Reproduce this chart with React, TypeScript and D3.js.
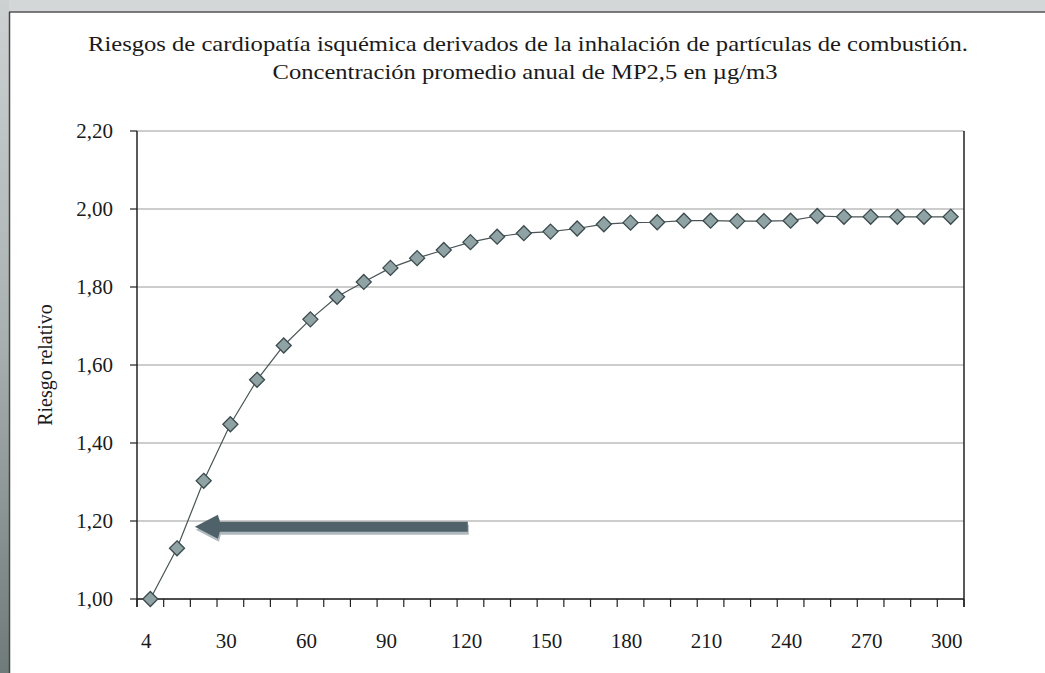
import React from "react";
import * as d3 from "d3";

const categories = ["4","10","20","30","40","50","60","70","80","90","100","110","120","130","140","150","160","170","180","190","200","210","220","230","240","250","260","270","280","290","300"];
const riesgo = [1.00,1.13,1.303,1.448,1.562,1.650,1.717,1.775,1.813,1.849,1.874,1.895,1.915,1.929,1.938,1.942,1.950,1.961,1.965,1.966,1.970,1.970,1.969,1.969,1.970,1.982,1.980,1.980,1.980,1.980,1.980];
const yTicks = [1.0,1.2,1.4,1.6,1.8,2.0,2.2];
const xLabelCats = ["4","30","60","90","120","150","180","210","240","270","300"];
const titleLines = ["Riesgos de cardiopatía isquémica derivados de la inhalación de partículas de combustión.", "Concentración promedio anual de MP2,5 en  µg/m3"];
const yAxisTitle = "Riesgo relativo";
// annotation arrow in data terms (category index, value)
const arrowTip = { idx: 1.67, value: 1.185 };
const arrowEnd = { idx: 11.9, value: 1.185 };

const W = 1045, H = 673;
const L = 137, R = 964, T = 131, B = 599;
const font = "'Liberation Serif', 'DejaVu Serif', 'Times New Roman', serif";

export default function App() {
  const x = d3.scaleBand<string>().domain(categories).range([L, R]).padding(0);
  const bw = x.bandwidth();
  const cx = (c: string) => (x(c) as number) + bw / 2;
  const xi = d3.scaleLinear().domain([-0.5, categories.length - 0.5]).range([L, R]);
  const y = d3.scaleLinear().domain([1, 2.2]).range([B, T]);
  const fmt = (v: number) => v.toFixed(2).replace(".", ",");
  const line = d3.line<number>().x((_, i) => cx(categories[i])).y((v) => y(v));

  const tipX = xi(arrowTip.idx), tipY = y(arrowTip.value);
  const endX = xi(arrowEnd.idx);
  const arrowPts = [
    [tipX, tipY], [tipX + 23, tipY - 12], [tipX + 25, tipY - 5], [endX, tipY - 5],
    [endX, tipY + 5], [tipX + 25, tipY + 5], [tipX + 23, tipY + 12]
  ].map(p => p.join(",")).join(" ");

  const boundaries = d3.range(categories.length + 1).map(k => L + k * bw);

  return (
    <div style={{ position: "fixed", left: 0, top: 0 }}>
      <svg width={W} height={H} style={{ display: "block" }}>
        <defs>
          <linearGradient id="leftStrip" x1="0" y1="0" x2="0" y2="1">
            <stop offset="0" stopColor="#cdd1d1" />
            <stop offset="0.5" stopColor="#a9b1b0" />
            <stop offset="1" stopColor="#6f7b79" />
          </linearGradient>
          <filter id="soft" x="-5%" y="-50%" width="110%" height="200%">
            <feGaussianBlur stdDeviation="0.7" />
          </filter>
        </defs>
        <rect x={0} y={0} width={W} height={H} fill="#d4d7d7" />
        <rect x={0} y={0} width={9} height={H} fill="url(#leftStrip)" />
        <rect x={9} y={12} width={W - 9} height={H - 12} fill="#fff" />
        <line x1={9} y1={12} x2={W} y2={12} stroke="#555" strokeWidth={1.5} />
        <line x1={9.5} y1={12} x2={9.5} y2={H} stroke="#444" strokeWidth={1.5} />

        <text x={528} y={51} textAnchor="middle" fontFamily={font} fontSize={21} fill="#1a1a1a"
          textLength={880} lengthAdjust="spacingAndGlyphs">{titleLines[0]}</text>
        <text x={525} y={79} textAnchor="middle" fontFamily={font} fontSize={21} fill="#1a1a1a"
          textLength={505} lengthAdjust="spacingAndGlyphs">{titleLines[1]}</text>

        {yTicks.map(t => (
          <g key={t}>
            <line x1={L} x2={R} y1={y(t)} y2={y(t)} stroke="#9a9a9a" strokeWidth={1} />
            <line x1={L - 7} x2={L} y1={y(t)} y2={y(t)} stroke="#222" strokeWidth={1.2} />
            <text x={113} y={y(t) + 7} textAnchor="end" fontFamily={font} fontSize={21} fill="#1a1a1a">{fmt(t)}</text>
          </g>
        ))}

        <line x1={L} x2={L} y1={T} y2={B + 8} stroke="#222" strokeWidth={1.5} />
        <line x1={R} x2={R} y1={T} y2={B + 8} stroke="#222" strokeWidth={1.5} />
        <line x1={L} x2={R} y1={B} y2={B} stroke="#222" strokeWidth={1.5} />
        {boundaries.map((bx, k) => (
          <line key={k} x1={bx} x2={bx} y1={B} y2={B + 8} stroke="#222" strokeWidth={1.2} />
        ))}
        {xLabelCats.map(c => (
          <text key={c} x={cx(c) - 4} y={648} textAnchor="middle" fontFamily={font} fontSize={21} fill="#1a1a1a">{c}</text>
        ))}

        <text transform={`translate(52,${(T + B) / 2}) rotate(-90)`} textAnchor="middle" fontFamily={font} fontSize={20} fill="#1a1a1a">{yAxisTitle}</text>

        <path d={line(riesgo) as string} fill="none" stroke="#4a5456" strokeWidth={1.2} />
        {riesgo.map((v, i) => {
          const px = cx(categories[i]), py = y(v), s = 7.5;
          return (
            <polygon key={i} points={`${px},${py - s} ${px + s},${py} ${px},${py + s} ${px - s},${py}`}
              fill="#8fa2a4" stroke="#3b4a4d" strokeWidth={1.3} />
          );
        })}

        <polygon points={arrowPts} fill="#7d8c92" transform="translate(1,3)" filter="url(#soft)" opacity={0.6} />
        <polygon points={arrowPts} fill="#4f6169" />
      </svg>
    </div>
  );
}
